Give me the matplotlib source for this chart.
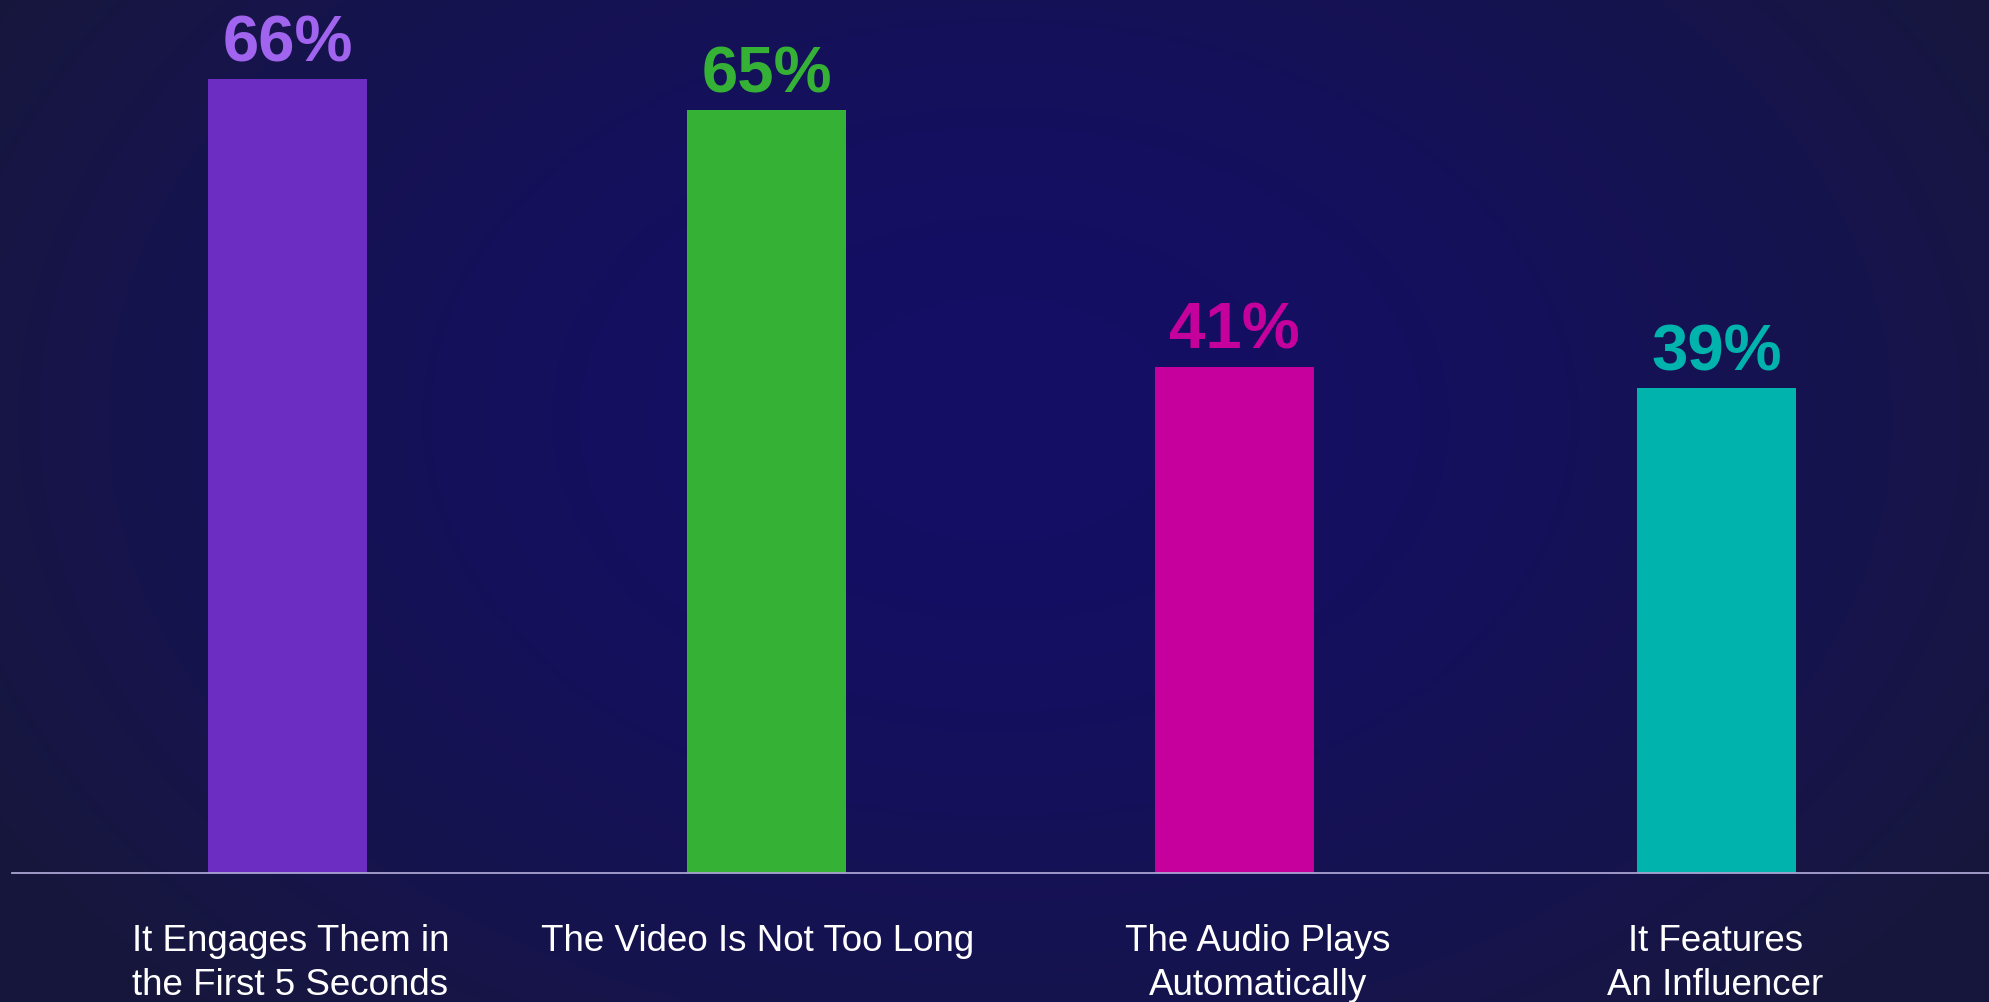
import matplotlib
matplotlib.use("Agg")
import matplotlib.pyplot as plt
import matplotlib.transforms as mtransforms
import numpy as np

plt.rcParams['font.family'] = ['Liberation Sans', 'DejaVu Sans']

# data
categories = [
    "It Engages Them in\nthe First 5 Seconds",
    "The Video Is Not Too Long",
    "The Audio Plays\nAutomatically",
    "It Features\nAn Influencer",
]
value_labels = ["66%", "65%", "41%", "39%"]
# bar heights as drawn (the drawn bars are not exactly proportional to the labels)
bar_heights = [66, 63.4, 42.1, 40.3]

bar_colors = ["#6c2dc2", "#35b236", "#c6009c", "#00b3ad"]
label_colors = ["#a064ee", "#35b236", "#c6009c", "#00b3ad"]
bar_dx = [0, 3, -6, 0]        # pixel shifts of the bars
label_dx = [3, -6, 18, -1]    # pixel shifts of category labels

W, H = 1990, 1003
fig = plt.figure(figsize=(W / 100, H / 100), dpi=100)

# radial background
bg = fig.add_axes([0, 0, 1, 1])
yy, xx = np.mgrid[0:H, 0:W]
r = np.sqrt(((xx - 1000) / 1150.0) ** 2 + ((yy - 420) / 800.0) ** 2)
r = np.clip(r, 0, 1) ** 1.6
c_in = np.array([20, 14, 102]) / 255.0
c_out = np.array([23, 23, 62]) / 255.0
img = c_in[None, None, :] * (1 - r[..., None]) + c_out[None, None, :] * r[..., None]
bg.imshow(img, aspect='auto', extent=[0, 1, 0, 1])
bg.axis('off')

base_px = 874
ax = fig.add_axes([0, (H - base_px) / H, 1, base_px / H])
ax.patch.set_alpha(0)
step = 476.3
x = np.arange(len(categories)) + np.array(bar_dx) / step
ax.set_xlim(-287.5 / step, (W - 287.5) / step)
ax.set_ylim(0, base_px / 12.03)
ax.bar(x, bar_heights, width=159 / step, color=bar_colors, zorder=2)
ax.axhline(0, xmin=12 / W, xmax=1, color="#aaa4d2", linewidth=1.3, zorder=3,
           clip_on=False)

for i, (h, lab, c) in enumerate(zip(bar_heights, value_labels, label_colors)):
    ax.annotate(lab, (x[i], h), xytext=(0, 19), textcoords='offset pixels',
                ha='center', va='baseline', fontsize=47, fontweight='bold',
                color=c)

trans = mtransforms.blended_transform_factory(ax.transData, fig.transFigure)
line_base = [951, 995]
for i, cat in enumerate(categories):
    for j, line in enumerate(cat.split("\n")):
        ax.text(i + label_dx[i] / step, 1 - line_base[j] / H, line,
                transform=trans, ha='center', va='baseline',
                fontsize=26.5, color='white', clip_on=False)

for s in ax.spines.values():
    s.set_visible(False)
ax.set_xticks([])
ax.set_yticks([])

fig.savefig("out.png", dpi=100)
